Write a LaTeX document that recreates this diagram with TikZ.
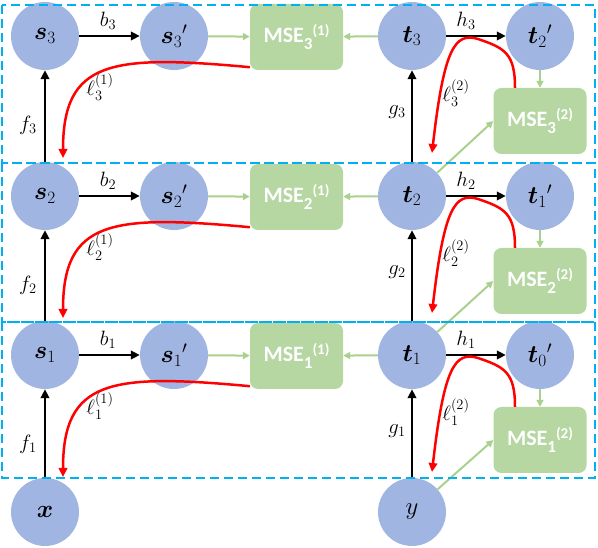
\documentclass[tikz,border=0pt]{standalone}
\usepackage{amsmath,bm}
\usepackage{fontspec}
\newfontfamily\msefont{Carlito}
\usetikzlibrary{arrows.meta,calc}
\definecolor{nodeblue}{RGB}{161,181,226}
\definecolor{boxgreen}{RGB}{182,214,162}
\definecolor{arrgreen}{RGB}{169,209,142}
\definecolor{dashblue}{RGB}{0,176,240}
\definecolor{lossred}{RGB}{255,0,0}
\newcommand\msetxt[2]{MSE\raisebox{-7pt}{\fontsize{17}{17}\selectfont #1}\raisebox{7pt}{\fontsize{15}{15}\selectfont (#2)}}
\tikzset{
  circ/.style={circle,fill=nodeblue,minimum size=68pt,inner sep=0pt,font=\fontsize{23}{27}\selectfont},
  msebox/.style={rectangle,rounded corners=8pt,fill=boxgreen,minimum width=93pt,minimum height=66pt,inner sep=0pt,text=white,font=\msefont\bfseries\fontsize{22}{26}\selectfont},
  lbl/.style={inner sep=0pt,font=\fontsize{21}{25}\selectfont},
  blk/.style={draw=black,line width=2.5pt,-{Triangle[length=9pt,width=8.5pt]}},
  grn/.style={draw=arrgreen,line width=2pt,-{Triangle[length=7pt,width=7pt]}},
  redarr/.style={draw=lossred,line width=2.5pt,-{Triangle[length=9pt,width=8.5pt]}},
  dashbox/.style={draw=dashblue,line width=1.8pt,dash pattern=on 9pt off 5pt}
}
\begin{document}
\begin{tikzpicture}[x=1pt,y=-1pt]
\useasboundingbox (0,0) rectangle (598,548);
\node[circ] (xn) at (45,512) {$\bm{x}$};
\node[circ] (yn) at (412,512) {$y$};
\foreach \i/\r [evaluate=\i as \j using int(\i-1)] in {1/355,2/196,3/36}{
  \node[circ] (s\i) at (45,\r) {$\bm{s}_{\i}$};
  \node[circ] (sp\i) at (174,\r) {${\bm{s}_{\i}}'$};
  \node[msebox] (ma\i) at (296.5,\r+1) {\msetxt{\i}{1}};
  \node[circ] (t\i) at (412,\r) {$\bm{t}_{\i}$};
  \node[circ] (tp\i) at (540,\r) {${\bm{t}_{\j}}'$};
  \node[msebox] (mb\i) at (540,\r+85) {\msetxt{\i}{2}};
  \node[lbl] (b\i) at (108,\r-15) {$b_{\i}$};
  \node[lbl] (h\i) at (466,\r-15) {$h_{\i}$};
  \node[lbl] (f\i) at (28,\r+89) {$f_{\i}$};
  \node[lbl] (g\i) at (397,\r+76) {$g_{\i}$};
  \node[lbl] (la\i) at (100,\r+51) {$\ell_{\i}^{(1)}$};
  \node[lbl] (lb\i) at (456,\r+57) {$\ell_{\i}^{(2)}$};
  \draw[blk] (s\i) -- (sp\i);
  \draw[blk] (t\i) -- (tp\i);
  \draw[grn] (sp\i) -- (ma\i);
  \draw[grn] (t\i) -- (ma\i);
  \draw[grn] (tp\i) -- (mb\i);
  \coordinate (rs\i) at ([yshift=3pt]ma\i.south west);
  \coordinate (re\i) at (63,\r+122);
  \draw[redarr] (rs\i) .. controls +(-140,-13) and +(0,-97) .. (re\i);
  \coordinate (qs\i) at ([xshift=-25pt]mb\i.north);
  \coordinate (qm\i) at (478,\r+3);
  \coordinate (qe\i) at (432,\r+117);
  \draw[redarr] (qs\i) .. controls +(0,-34) and +(27,9) .. (qm\i)
     .. controls +(-23,-7) and +(12,-105) .. (qe\i);
}
\draw[blk] (xn) -- (s1);
\draw[blk] (s1) -- (s2);
\draw[blk] (s2) -- (s3);
\draw[blk] (yn) -- (t1);
\draw[blk] (t1) -- (t2);
\draw[blk] (t2) -- (t3);
\draw[grn] (yn) -- (mb1.west);
\draw[grn] (t1) -- (mb2.west);
\draw[grn] (t2) -- (mb3.west);
\draw[dashbox] (2,5) rectangle (595,163);
\draw[dashbox] (2,163) rectangle (595,322);
\draw[dashbox] (2,322) rectangle (595,478);
\end{tikzpicture}
\end{document}
